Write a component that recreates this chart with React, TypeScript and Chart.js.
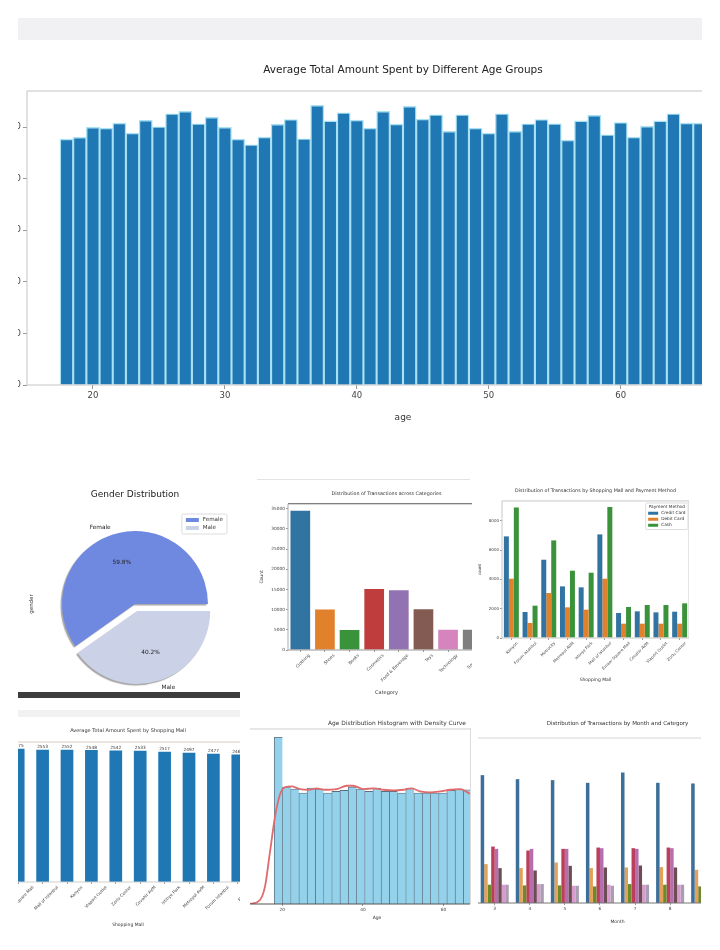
import { useEffect, useRef } from "react";
import { Chart, registerables } from "chart.js";

Chart.register(...registerables);
const FONT = "DejaVu Sans";
Chart.defaults.font.family = FONT;

// ---------------- data ----------------
const AGES = [18, 19, 20, 21, 22, 23, 24, 25, 26, 27, 28, 29, 30, 31, 32, 33, 34, 35, 36, 37, 38, 39, 40, 41, 42, 43, 44, 45, 46, 47, 48, 49, 50, 51, 52, 53, 54, 55, 56, 57, 58, 59, 60, 61, 62, 63, 64, 65, 66];
const AGE_AVG_SPENT = [2383, 2400, 2497, 2490, 2539, 2442, 2565, 2503, 2629, 2652, 2532, 2594, 2497, 2383, 2329, 2403, 2526, 2574, 2387, 2710, 2561, 2639, 2568, 2490, 2652, 2529, 2701, 2578, 2620, 2458, 2620, 2490, 2442, 2629, 2458, 2532, 2574, 2532, 2374, 2561, 2613, 2426, 2545, 2403, 2507, 2561, 2629, 2539, 2539];
const AGE_Y_TICKS = [0, 500, 1000, 1500, 2000, 2500];

const GENDER_LABELS = ["Female", "Male"];
const GENDER_SHARE = [59.8, 40.2];

const CATEGORIES = ["Clothing", "Shoes", "Books", "Cosmetics", "Food & Beverage", "Toys", "Technology", "Souvenir"];
const CATEGORY_COUNTS = [34487, 10034, 4981, 15097, 14776, 10087, 4996, 4999];
const CATEGORY_Y_TICKS = [0, 5000, 10000, 15000, 20000, 25000, 30000, 35000];

const MALLS = ["Kanyon", "Forum Istanbul", "Metrocity", "Metropol AVM", "Istinye Park", "Mall of Istanbul", "Emaar Square Mall", "Cevahir AVM", "Viaport Outlet", "Zorlu Center"];
const PAYMENT_METHODS = ["Credit Card", "Debit Card", "Cash"];
const MALL_CREDIT = [6932, 1773, 5341, 3523, 3455, 7068, 1705, 1818, 1750, 1795];
const MALL_DEBIT = [4045, 1023, 3068, 2091, 1932, 4045, 977, 977, 977, 977];
const MALL_CASH = [8909, 2205, 6659, 4591, 4455, 8932, 2114, 2250, 2250, 2364];
const MALL_PAY_Y_TICKS = [0, 2000, 4000, 6000, 8000];

const MALLS_BY_AVG = ["Emaar Square Mall", "Mall of Istanbul", "Kanyon", "Viaport Outlet", "Zorlu Center", "Cevahir AVM", "Istinye Park", "Metropol AVM", "Forum Istanbul", "Metrocity"];
const MALL_AVG_SPENT = [2575, 2553, 2552, 2548, 2542, 2533, 2517, 2497, 2477, 2463];

const HIST_BIN_CENTERS = [19.02, 21.06, 23.1, 25.14, 27.18, 29.22, 31.26, 33.3, 35.34, 37.38, 39.42, 41.46, 43.5, 45.54, 47.58, 49.62, 51.66, 53.7, 55.74, 57.78, 59.82, 61.86, 63.9, 65.94];
const HIST_COUNTS = [5489, 3850, 3784, 3652, 3817, 3784, 3652, 3707, 3740, 3850, 3784, 3707, 3817, 3707, 3707, 3652, 3817, 3652, 3652, 3652, 3652, 3740, 3784, 3762];
const HIST_X_TICKS = [20, 40, 60];
const KDE_AGES = [12.0, 14.45, 15.7, 16.9, 18.2, 19.4, 20.7, 22.3, 24.4, 26.5, 28.5, 30.6, 33.5, 36.0, 37.6, 40.1, 42.6, 45.1, 47.6, 50.1, 52.1, 54.2, 56.7, 59.2, 61.7, 64.1, 66.6];
const KDE_COUNTS = [0, 132, 572, 1672, 2882, 3597, 3850, 3872, 3784, 3762, 3806, 3762, 3784, 3894, 3894, 3784, 3806, 3762, 3740, 3762, 3806, 3707, 3674, 3707, 3762, 3784, 3630];

const MONTHS = ["1", "2", "3", "4", "5", "6", "7", "8", "9", "10", "11", "12"];
const MONTH_CLOTHING = [null, null, 2965, 2872, 2849, 2787, 3026, 2787, 2772, null, null, null];
const MONTH_SHOES = [null, null, 901, 809, 939, 809, 824, 832, 770, null, null, null];
const MONTH_BOOKS = [null, null, 424, 408, 408, 385, 439, 424, 385, null, null, null];
const MONTH_COSMETICS = [null, null, 1309, 1217, 1255, 1286, 1271, 1286, 1271, null, null, null];
const MONTH_FOOD = [null, null, 1255, 1255, 1255, 1271, 1255, 1271, 1255, null, null, null];
const MONTH_TOYS = [null, null, 809, 755, 862, 824, 870, 824, 809, null, null, null];
const MONTH_TECH = [null, null, 424, 439, 400, 424, 424, 424, 408, null, null, null];
const MONTH_SOUVENIR = [null, null, 424, 439, 400, 400, 424, 424, 408, null, null, null];

// ---------------- styles ----------------
const CAT_COLORS = ["#3274a1", "#e1812c", "#3a923a", "#c03d3e", "#9372b2", "#845b53", "#d684bd", "#7f7f7f"];
const PAY_COLORS = ["#3274a1", "#e1812c", "#3a923a"];
const MONTH_COLORS = ["#3c6f9a", "#e3a159", "#6c8a2b", "#bb3f5c", "#b56fae", "#6b4d53", "#d79bcc", "#a99db3"];
const GENDER_COLORS = ["#7089e0", "#cbd1e7"];
const GENDER_EXPLODE = [0, 0.1];

const f = (size: number) => ({ family: FONT, size, weight: "normal" as const });

// ---------------- plugins ----------------
const framePlugin = (sides: any, width = 1) => ({
  id: "frame",
  afterDatasetsDraw(chart: any) {
    const { ctx, chartArea: a } = chart;
    ctx.save();
    ctx.lineWidth = width;
    const line = (c: string, x1: number, y1: number, x2: number, y2: number) => {
      ctx.strokeStyle = c;
      ctx.beginPath();
      ctx.moveTo(x1, y1);
      ctx.lineTo(x2, y2);
      ctx.stroke();
    };
    if (sides.top) line(sides.top, a.left, a.top, a.right, a.top);
    if (sides.bottom) line(sides.bottom, a.left, a.bottom, a.right, a.bottom);
    if (sides.left) line(sides.left, a.left, a.top, a.left, a.bottom);
    if (sides.right) line(sides.right, a.right, a.top, a.right, a.bottom);
    ctx.restore();
  },
});

const textPlugin = (items: any[]) => ({
  id: "texts",
  afterDraw(chart: any) {
    const ctx = chart.ctx;
    items.forEach((t) => {
      ctx.save();
      ctx.font = `${t.size}px ${FONT}`;
      ctx.fillStyle = t.color || "#333";
      ctx.textAlign = "center";
      ctx.textBaseline = "middle";
      ctx.translate(t.x, t.y);
      if (t.rotate) ctx.rotate(t.rotate);
      ctx.fillText(t.text, 0, 0);
      ctx.restore();
    });
  },
});

const boxLegendPlugin = (o: any) => ({
  id: "boxLegend",
  afterDraw(chart: any) {
    const ctx = chart.ctx;
    let items: any[];
    if (chart.config.type === "pie") {
      const ds = chart.data.datasets[0];
      items = chart.data.labels.map((l: string, i: number) => ({ label: l, color: ds.backgroundColor[i] }));
    } else {
      items = chart.data.datasets.map((ds: any) => ({ label: ds.label, color: ds.backgroundColor }));
    }
    if (o.reverse) items.reverse();
    ctx.save();
    ctx.font = `${o.size}px ${FONT}`;
    const textW = Math.max(...items.map((it) => ctx.measureText(it.label).width));
    const titleW = o.title ? ctx.measureText(o.title).width : 0;
    const gap = o.size * 0.7;
    const innerW = Math.max(titleW, o.patchW + gap + textW);
    const w = innerW + 2 * o.pad;
    const rows = items.length + (o.title ? 1 : 0);
    const h = rows * o.rowH + o.pad;
    const x = o.right - w;
    const y = o.top;
    ctx.fillStyle = "rgba(255,255,255,0.9)";
    ctx.strokeStyle = "#d4d4d4";
    ctx.lineWidth = 0.8;
    ctx.beginPath();
    if (ctx.roundRect) ctx.roundRect(x, y, w, h, 1.5);
    else ctx.rect(x, y, w, h);
    ctx.fill();
    ctx.stroke();
    let cy = y + o.pad / 2 + o.rowH / 2;
    ctx.textBaseline = "middle";
    if (o.title) {
      ctx.fillStyle = "#333";
      ctx.textAlign = "center";
      ctx.fillText(o.title, x + w / 2, cy);
      cy += o.rowH;
    }
    ctx.textAlign = "left";
    items.forEach((it) => {
      ctx.fillStyle = it.color;
      ctx.fillRect(x + o.pad, cy - o.patchH / 2, o.patchW, o.patchH);
      ctx.fillStyle = "#333";
      ctx.fillText(it.label, x + o.pad + o.patchW + gap, cy);
      cy += o.rowH;
    });
    ctx.restore();
  },
});

const pieExplodePlugin = (explode: number[]) => ({
  id: "pieExplode",
  beforeDatasetDraw(chart: any, args: any) {
    const ctx = chart.ctx;
    args.meta.data.forEach((arc: any, i: number) => {
      const mid = (arc.startAngle + arc.endAngle) / 2;
      const d = explode[i] * arc.outerRadius;
      ctx.save();
      ctx.translate(Math.cos(mid) * d, Math.sin(mid) * d);
      ctx.shadowColor = "rgba(0,0,0,0.35)";
      ctx.shadowOffsetX = -1.5;
      ctx.shadowOffsetY = 1.5;
      ctx.shadowBlur = 1;
      arc.draw(ctx, chart.chartArea);
      ctx.restore();
    });
    return false;
  },
  afterDatasetsDraw(chart: any) {
    const ctx = chart.ctx;
    const meta = chart.getDatasetMeta(0);
    const values = chart.data.datasets[0].data;
    const total = values.reduce((s: number, v: number) => s + v, 0);
    ctx.save();
    ctx.font = `5.8px ${FONT}`;
    ctx.fillStyle = "#222";
    ctx.textBaseline = "middle";
    meta.data.forEach((arc: any, i: number) => {
      const mid = (arc.startAngle + arc.endAngle) / 2;
      const r = arc.outerRadius;
      const d = explode[i] * r;
      const c = Math.cos(mid);
      const s = Math.sin(mid);
      ctx.textAlign = c < 0 ? "right" : "left";
      ctx.fillText(chart.data.labels[i], arc.x + c * (d + 1.1 * r), arc.y + s * (d + 1.1 * r));
      ctx.textAlign = "center";
      ctx.fillText(((values[i] / total) * 100).toFixed(1) + "%", arc.x + c * (d + 0.6 * r), arc.y + s * (d + 0.6 * r));
    });
    ctx.restore();
  },
});

const barValuesPlugin = (size: number) => ({
  id: "barValues",
  afterDatasetsDraw(chart: any) {
    const ctx = chart.ctx;
    const meta = chart.getDatasetMeta(0);
    const values = chart.data.datasets[0].data;
    ctx.save();
    ctx.font = `${size}px ${FONT}`;
    ctx.fillStyle = "#333";
    ctx.textAlign = "center";
    ctx.textBaseline = "bottom";
    meta.data.forEach((bar: any, i: number) => ctx.fillText(String(Math.round(values[i])), bar.x, bar.y - 0.5));
    ctx.restore();
  },
});

// ---------------- helpers ----------------
const fixX = (h: number) => (s: any) => {
  s.height = h;
  s.paddingLeft = 0;
  s.paddingRight = 0;
};
const fixY = (w: number) => (s: any) => {
  s.width = w;
  s.paddingTop = 0;
  s.paddingBottom = 0;
};
const setTicks = (vals: number[]) => (s: any) => {
  s.ticks = vals.map((v) => ({ value: v }));
};
const tickGrid = (len: number, color = "#999") => ({ display: true, drawOnChartArea: false, drawTicks: true, tickLength: len, color, offset: false });
const baseOpts = {
  responsive: false,
  maintainAspectRatio: false,
  animation: false,
  layout: { padding: 0 },
};
const noLegend = { legend: { display: false }, tooltip: { enabled: false } };

// ---------------- chart configs ----------------
const ageConfig = () => ({
  type: "bar",
  data: {
    datasets: [
      {
        label: "Average Total Amount",
        data: AGES.map((a, i) => ({ x: a, y: AGE_AVG_SPENT[i] })),
        backgroundColor: "#1f77b4",
        borderColor: "#a9e1f3",
        borderWidth: 1.4,
        borderSkipped: "bottom",
        barPercentage: 1,
        categoryPercentage: 1,
      },
    ],
  },
  options: {
    ...baseOpts,
    plugins: {
      ...noLegend,
      title: { display: true, text: "Average Total Amount Spent by Different Age Groups", fullSize: false, color: "#222", font: f(10.5), padding: { top: 14, bottom: 14.4 } },
    },
    scales: {
      x: {
        type: "linear", min: 15, max: 72, offset: false,
        border: { display: false }, grid: tickGrid(4),
        ticks: { stepSize: 10, includeBounds: false, color: "#444", font: f(8.5), padding: 2, maxRotation: 0 },
        title: { display: true, text: "age", color: "#333", font: f(9), padding: { top: 0, bottom: 7 } },
        afterFit: fixX(45),
      },
      y: {
        min: 0, max: 2850, border: { display: false }, grid: tickGrid(4),
        afterBuildTicks: setTicks(AGE_Y_TICKS),
        ticks: { color: "#444", font: f(8.5), padding: 2, callback: (v: any) => String(v) },
        afterFit: fixY(40),
      },
    },
  },
  plugins: [framePlugin({ top: "#c4c4c4", right: "#c4c4c4", bottom: "#c4c4c4", left: "#c4c4c4" })],
});

const genderConfig = () => {
  const order = [1, 0];
  return {
    type: "pie",
    data: {
      labels: order.map((i) => GENDER_LABELS[i]),
      datasets: [{ data: order.map((i) => GENDER_SHARE[i]), backgroundColor: order.map((i) => GENDER_COLORS[i]), borderWidth: 0 }],
    },
    options: {
      ...baseOpts,
      layout: { padding: { top: 0, left: 0, right: 0, bottom: 8 } },
      rotation: 90,
      radius: 73,
      plugins: {
        ...noLegend,
        title: { display: true, text: "Gender Distribution", color: "#222", font: f(9), padding: { top: 19.6, bottom: 19.6 } },
      },
    },
    plugins: [
      pieExplodePlugin(order.map((i) => GENDER_EXPLODE[i])),
      boxLegendPlugin({ right: 209, top: 44, size: 5.6, rowH: 8, patchW: 13, patchH: 4, pad: 4, reverse: true }),
      textPlugin([{ text: "gender", x: 14, y: 134, size: 5.5, rotate: -Math.PI / 2 }]),
    ],
  };
};

const categoryConfig = () => ({
  type: "bar",
  data: {
    labels: CATEGORIES,
    datasets: [{ label: "Count", data: CATEGORY_COUNTS, backgroundColor: CAT_COLORS, barPercentage: 0.8, categoryPercentage: 1 }],
  },
  options: {
    ...baseOpts,
    plugins: {
      ...noLegend,
      title: { display: true, text: "Distribution of Transactions across Categories", fullSize: false, color: "#333", font: f(4.8), padding: { top: 11, bottom: 7 } },
    },
    scales: {
      x: {
        border: { display: false }, grid: tickGrid(2),
        ticks: { color: "#444", font: f(4.3), padding: 1, minRotation: 45, maxRotation: 45, autoSkip: false, labelOffset: 9 },
        title: { display: true, text: "Category", color: "#333", font: f(5), padding: { top: 0, bottom: 4 } },
        afterFit: fixX(50),
      },
      y: {
        min: 0, max: 36211, border: { display: false }, grid: tickGrid(2),
        afterBuildTicks: setTicks(CATEGORY_Y_TICKS),
        ticks: { color: "#444", font: f(4.3), padding: 1, callback: (v: any) => String(v) },
        title: { display: true, text: "Count", color: "#333", font: f(4.5), padding: { top: 1.3, bottom: 0 } },
        afterFit: fixY(30),
      },
    },
  },
  plugins: [framePlugin({ top: "#555", right: "#aaa", bottom: "#999", left: "#aaa" })],
});

const mallPayConfig = () => ({
  type: "bar",
  data: {
    labels: MALLS,
    datasets: [MALL_CREDIT, MALL_DEBIT, MALL_CASH].map((d, i) => ({
      label: PAYMENT_METHODS[i], data: d, backgroundColor: PAY_COLORS[i], barPercentage: 1, categoryPercentage: 0.8,
    })),
  },
  options: {
    ...baseOpts,
    plugins: {
      ...noLegend,
      title: { display: true, text: "Distribution of Transactions by Shopping Mall and Payment Method", fullSize: false, color: "#333", font: f(4.8), padding: { top: 8, bottom: 7.2 } },
    },
    scales: {
      x: {
        border: { display: false }, grid: tickGrid(2),
        ticks: { color: "#444", font: f(4), padding: 1, minRotation: 45, maxRotation: 45, autoSkip: false, labelOffset: 6 },
        title: { display: true, text: "Shopping Mall", color: "#333", font: f(4.5), padding: { top: 0, bottom: 3.3 } },
        afterFit: fixX(48),
      },
      y: {
        min: 0, max: 9350, border: { display: false }, grid: tickGrid(2),
        afterBuildTicks: setTicks(MALL_PAY_Y_TICKS),
        ticks: { color: "#444", font: f(4), padding: 1, callback: (v: any) => String(v) },
        title: { display: true, text: "count", color: "#333", font: f(4), padding: { top: 0, bottom: 0 } },
        afterFit: fixY(24),
      },
    },
  },
  plugins: [
    framePlugin({ top: "#c8c8c8", right: "#c8c8c8", bottom: "#c8c8c8", left: "#c8c8c8" }),
    boxLegendPlugin({ right: 210, top: 23, size: 4.3, rowH: 6, patchW: 10, patchH: 3, pad: 2.5, title: "Payment Method" }),
  ],
});

const mallAvgConfig = () => ({
  type: "bar",
  data: {
    labels: MALLS_BY_AVG,
    datasets: [{ label: "Average Total Amount", data: MALL_AVG_SPENT, backgroundColor: "#1f77b4", barPercentage: 0.52, categoryPercentage: 1 }],
  },
  options: {
    ...baseOpts,
    plugins: {
      ...noLegend,
      title: { display: true, text: "Average Total Amount Spent by Shopping Mall", fullSize: false, color: "#333", font: f(5), padding: { top: 6, bottom: 8 } },
    },
    scales: {
      x: {
        border: { display: false }, grid: tickGrid(2),
        ticks: { color: "#444", font: f(4.2), padding: 1, minRotation: 45, maxRotation: 45, autoSkip: false, labelOffset: 15 },
        title: { display: true, text: "Shopping Mall", color: "#333", font: f(4.5), padding: { top: 0, bottom: 3.3 } },
        afterFit: fixX(49),
      },
      y: { display: false, min: 0, max: 2704 },
    },
  },
  plugins: [framePlugin({ top: "#d8cdc2", bottom: "#cfcfcf" }), barValuesPlugin(4.3)],
});

const histConfig = () => ({
  type: "bar",
  data: {
    datasets: [
      {
        type: "line", label: "Density", order: 0,
        data: KDE_AGES.map((a, i) => ({ x: a, y: KDE_COUNTS[i] })),
        borderColor: "#e06a6c", borderWidth: 1.8, pointRadius: 0, fill: false, cubicInterpolationMode: "monotone",
      },
      {
        type: "bar", label: "Age", order: 1,
        data: HIST_BIN_CENTERS.map((c, i) => ({ x: c, y: HIST_COUNTS[i] })),
        backgroundColor: "#93d2ea", borderColor: "rgba(35,60,80,0.75)",
        borderWidth: { left: 0.8, top: 0.8, right: 0, bottom: 0 }, borderSkipped: false,
        barPercentage: 1, categoryPercentage: 1,
      },
    ],
  },
  options: {
    ...baseOpts,
    layout: { padding: { top: 14, left: 0, right: 0, bottom: 0 } },
    plugins: { ...noLegend },
    scales: {
      x: {
        type: "linear", min: 10, max: 77, offset: false,
        border: { display: false }, grid: tickGrid(2),
        afterBuildTicks: setTicks(HIST_X_TICKS),
        ticks: { color: "#444", font: f(4.3), padding: 1.5, maxRotation: 0 },
        title: { display: true, text: "Age", color: "#333", font: f(4.5), padding: { top: 0, bottom: 3.3 } },
        afterFit: fixX(20),
      },
      y: { display: false, min: 0, max: 5763 },
    },
  },
  plugins: [
    framePlugin({ top: "#cfcfcf", bottom: "#555" }),
    textPlugin([{ text: "Age Distribution Histogram with Density Curve", x: 155, y: 8, size: 5.9 }]),
  ],
});

const monthConfig = () => ({
  type: "bar",
  data: {
    labels: MONTHS,
    datasets: [MONTH_CLOTHING, MONTH_SHOES, MONTH_BOOKS, MONTH_COSMETICS, MONTH_FOOD, MONTH_TOYS, MONTH_TECH, MONTH_SOUVENIR].map((d, i) => ({
      label: CATEGORIES[i], data: d, backgroundColor: MONTH_COLORS[i], barPercentage: 1, categoryPercentage: 0.8,
    })),
  },
  options: {
    ...baseOpts,
    plugins: {
      ...noLegend,
      title: { display: true, text: "Distribution of Transactions by Month and Category", fullSize: false, color: "#333", font: f(5.5), padding: { top: 8.7, bottom: 10.7 } },
    },
    scales: {
      x: {
        border: { display: false }, grid: tickGrid(2),
        ticks: { color: "#444", font: f(4.3), padding: 1, maxRotation: 0, autoSkip: false },
        title: { display: true, text: "Month", color: "#333", font: f(4.5), padding: { top: 0, bottom: 3.6 } },
        afterFit: fixX(25),
      },
      y: { display: false, min: 0, max: 3826 },
    },
  },
  plugins: [framePlugin({ top: "#d5d5d5", bottom: "#777" })],
});

// ---------------- components ----------------
type Box = { x: number; y: number; w: number; h: number };

function ChartPanel({ clip, canvas, config }: { clip: Box; canvas: Box; config: () => any }) {
  const ref = useRef<HTMLCanvasElement>(null);
  useEffect(() => {
    const chart = new Chart(ref.current as HTMLCanvasElement, config());
    return () => chart.destroy();
  }, []);
  return (
    <div style={{ position: "absolute", left: clip.x, top: clip.y, width: clip.w, height: clip.h, overflow: "hidden" }}>
      <canvas
        ref={ref}
        width={canvas.w}
        height={canvas.h}
        style={{ position: "absolute", left: canvas.x - clip.x, top: canvas.y - clip.y, width: canvas.w, height: canvas.h }}
      />
    </div>
  );
}

const Rect = ({ x, y, w, h, c }: { x: number; y: number; w: number; h: number; c: string }) => (
  <div style={{ position: "absolute", left: x, top: y, width: w, height: h, background: c }} />
);

export default function App() {
  return (
    <div style={{ position: "absolute", left: 0, top: 0, width: 720, height: 950, background: "#fff", overflow: "hidden", fontFamily: FONT }}>
      <Rect x={18} y={18} w={684} h={22} c="#f1f1f3" />
      <ChartPanel clip={{ x: 18, y: 45, w: 684, h: 390 }} canvas={{ x: -13, y: 50, w: 792, h: 380 }} config={ageConfig} />

      <ChartPanel clip={{ x: 18, y: 470, w: 222, h: 222 }} canvas={{ x: 18, y: 470, w: 234, h: 226 }} config={genderConfig} />
      <Rect x={18} y={692} w={222} h={6} c="#3d3d3d" />
      <Rect x={18} y={710} w={222} h={7} c="#f1f1f1" />

      <Rect x={257} y={479} w={213} h={1} c="#e3e3e3" />
      <ChartPanel clip={{ x: 250, y: 481, w: 222, h: 219 }} canvas={{ x: 258, y: 480, w: 227, h: 220 }} config={categoryConfig} />

      <ChartPanel clip={{ x: 478, y: 470, w: 242, h: 230 }} canvas={{ x: 478, y: 480, w: 211, h: 206 }} config={mallPayConfig} />

      <ChartPanel clip={{ x: 18, y: 720, w: 222, h: 225 }} canvas={{ x: 6, y: 722, w: 244, h: 209 }} config={mallAvgConfig} />

      <ChartPanel clip={{ x: 250, y: 715, w: 220, h: 230 }} canvas={{ x: 242, y: 715, w: 270, h: 209 }} config={histConfig} />
      <Rect x={470} y={728} w={1} h={176} c="#dcdcdc" />

      <ChartPanel clip={{ x: 478, y: 712, w: 223, h: 230 }} canvas={{ x: 407, y: 712, w: 421, h: 216 }} config={monthConfig} />
    </div>
  );
}
